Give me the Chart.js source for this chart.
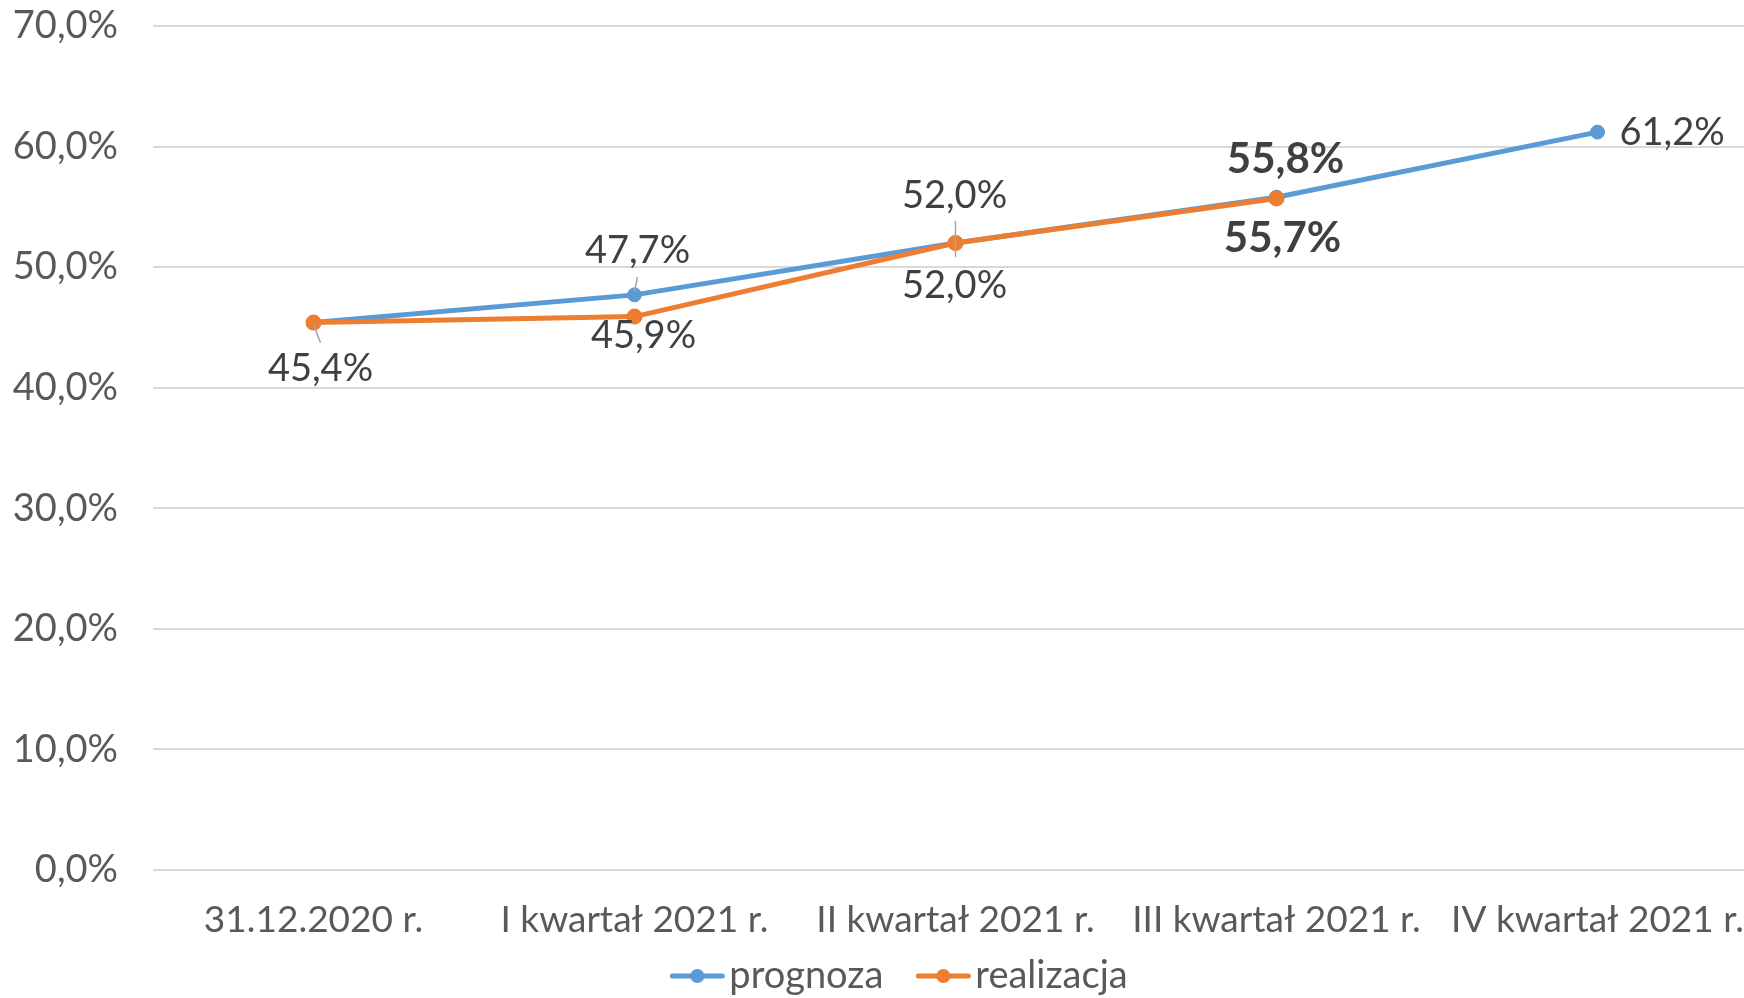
<!DOCTYPE html>
<html>
<head>
<meta charset="utf-8">
<script src="https://cdn.jsdelivr.net/npm/chart.js@4/dist/chart.umd.min.js"></script>
<style>
  html, body { margin: 0; padding: 0; background: #ffffff; overflow: hidden; }
  #wrap { width: 1744px; height: 998px; position: relative; overflow: hidden; }
  #c { position: absolute; left: 0; top: 0; }
</style>
</head>
<body>
<div id="wrap"><canvas id="c"></canvas></div>
<script>
// ---- data ----
const categories = ['31.12.2020 r.', 'I kwartał 2021 r.', 'II kwartał 2021 r.', 'III kwartał 2021 r.', 'IV kwartał 2021 r.'];
const prognoza = [45.4, 47.7, 52.0, 55.8, 61.2];
const realizacja = [45.4, 45.9, 52.0, 55.7, null];
const seriesNames = ['prognoza', 'realizacja'];
const yTicks = [0, 10, 20, 30, 40, 50, 60, 70];

// ---- styles ----
const BLUE = '#5B9BD5';
const ORANGE = '#ED7D31';
const FONT = 'Lato';
const FS = 38;
const fmt = v => v.toFixed(1).replace('.', ',') + '%';

// label placement (offsets relative to each point, in px)
const labelStyle = {
  prognoza: [
    null,
    { dx: 3, dy: -44, leader: [[3, -18], [0, -3]] },
    { dx: -1, dy: -47, leader: [[0, -22], [0, 0]] },
    { dx: 9, dy: -38, bold: true },
    { dx: 22, dy: 1, align: 'left' }
  ],
  realizacja: [
    { dx: 7, dy: 46, leader: [[0, 2], [7, 20]] },
    { dx: 9, dy: 19 },
    { dx: -1, dy: 43, leader: [[0, 0], [0, 14]] },
    { dx: 6, dy: 40, bold: true },
    null
  ]
};

const dataLabelPlugin = {
  id: 'dataLabels',
  afterDatasetsDraw(chart) {
    const ctx = chart.ctx;
    chart.data.datasets.forEach((ds, di) => {
      const meta = chart.getDatasetMeta(di);
      const styles = labelStyle[ds.label];
      meta.data.forEach((pt, i) => {
        const st = styles[i];
        const v = ds.data[i];
        if (!st || v === null || v === undefined) return;
        ctx.save();
        if (st.leader) {
          ctx.strokeStyle = '#a6a6a6';
          ctx.lineWidth = 1.5;
          ctx.beginPath();
          ctx.moveTo(pt.x + st.leader[0][0], pt.y + st.leader[0][1]);
          ctx.lineTo(pt.x + st.leader[1][0], pt.y + st.leader[1][1]);
          ctx.stroke();
        }
        ctx.fillStyle = '#404040';
        ctx.font = (st.bold ? 'bold 42px ' : FS + 'px ') + FONT;
        ctx.textAlign = st.align || 'center';
        ctx.textBaseline = 'middle';
        ctx.fillText(fmt(v), pt.x + st.dx, pt.y + st.dy);
        ctx.restore();
      });
    });
  }
};

const legendPlugin = {
  id: 'customLegend',
  afterDraw(chart) {
    const ctx = chart.ctx;
    const colors = [BLUE, ORANGE];
    const y = 976;
    const markerW = 54, gapText = 5, gapItem = 33;
    ctx.save();
    ctx.font = FS + 'px ' + FONT;
    const widths = seriesNames.map(n => ctx.measureText(n).width);
    let total = 0;
    widths.forEach((w, i) => { total += markerW + gapText + w + (i < widths.length - 1 ? gapItem : 0); });
    let x = 899 - total / 2;
    seriesNames.forEach((n, i) => {
      ctx.strokeStyle = colors[i];
      ctx.lineWidth = 5;
      ctx.lineCap = 'round';
      ctx.beginPath();
      ctx.moveTo(x + 2, y);
      ctx.lineTo(x + markerW - 2, y);
      ctx.stroke();
      ctx.fillStyle = colors[i];
      ctx.beginPath();
      ctx.arc(x + markerW / 2, y, 7, 0, Math.PI * 2);
      ctx.fill();
      ctx.fillStyle = '#595959';
      ctx.textAlign = 'left';
      ctx.textBaseline = 'middle';
      ctx.fillText(n, x + markerW + gapText, y);
      x += markerW + gapText + widths[i] + gapItem;
    });
    ctx.restore();
  }
};

// plot area in the original runs slightly past the right edge of the picture
const canvas = document.getElementById('c');
canvas.width = 1758; canvas.height = 998;
canvas.style.width = '1758px'; canvas.style.height = '998px';

new Chart(canvas, {
  type: 'line',
  data: {
    labels: categories,
    datasets: [
      {
        label: seriesNames[0], data: prognoza, order: 1,
        borderColor: BLUE, backgroundColor: BLUE, borderWidth: 5,
        pointRadius: 7, pointBorderWidth: 1, pointBackgroundColor: BLUE, pointBorderColor: BLUE,
        tension: 0, fill: false
      },
      {
        label: seriesNames[1], data: realizacja, order: 0,
        borderColor: ORANGE, backgroundColor: ORANGE, borderWidth: 5,
        pointRadius: 7, pointBorderWidth: 2, pointBackgroundColor: ORANGE, pointBorderColor: ORANGE,
        tension: 0, fill: false
      }
    ]
  },
  options: {
    responsive: false,
    animation: false,
    devicePixelRatio: 1,
    layout: { autoPadding: false, padding: { top: 26, right: 0, bottom: 0, left: 0 } },
    plugins: { legend: { display: false }, tooltip: { enabled: false } },
    scales: {
      x: {
        offset: true,
        grid: { display: false, drawTicks: false },
        border: { display: false },
        ticks: { font: { family: FONT, size: 37, lineHeight: 1.2 }, color: '#595959', padding: 28, maxRotation: 0, autoSkip: false },
        afterFit(s) { s.height = 128; s.paddingLeft = 0; s.paddingRight = 0; }
      },
      y: {
        min: 0, max: 70,
        afterBuildTicks(s) { s.ticks = yTicks.map(v => ({ value: v })); },
        grid: { color: '#d9d9d9', lineWidth: 2, drawTicks: false },
        border: { display: false },
        ticks: { font: { family: FONT, size: FS, lineHeight: 1.2 }, color: '#595959', padding: 35, callback: v => fmt(v) },
        afterFit(s) { s.width = 153; s.paddingTop = 0; s.paddingBottom = 0; }
      }
    }
  },
  plugins: [dataLabelPlugin, legendPlugin]
});
</script>
</body>
</html>
